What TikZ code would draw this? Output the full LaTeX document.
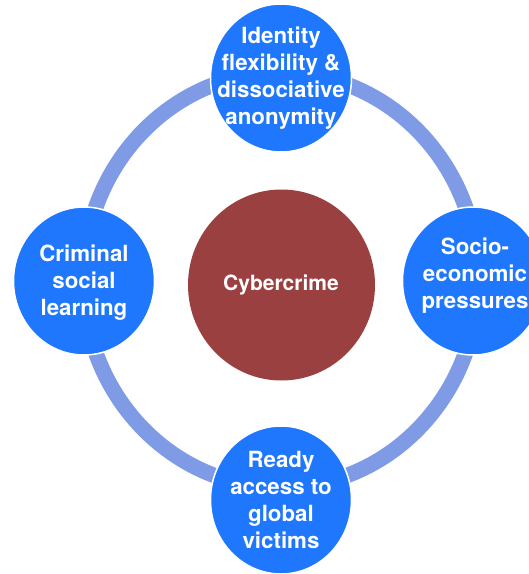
\documentclass[tikz,border=0pt]{standalone}
\usepackage{fontspec}
\setmainfont{TeX Gyre Heros}
\usetikzlibrary{shapes.geometric}
\definecolor{bubblue}{RGB}{30,119,253}
\definecolor{ringblue}{RGB}{127,155,229}
\definecolor{corered}{RGB}{154,64,65}
\begin{document}
\begin{tikzpicture}[x=1pt,y=-1pt,
  bubble/.style={ellipse, fill=bubblue, draw=white, line width=1.5pt, minimum width=141pt, minimum height=148pt, inner sep=0pt},
  core/.style={ellipse, fill=corered, minimum width=187pt, minimum height=191pt, inner sep=0pt},
  lbl/.style={text=white, font=\bfseries\fontsize{22.3}{27}\selectfont, align=center, inner sep=0pt},
  corelbl/.style={text=white, font=\bfseries\fontsize{21}{26}\selectfont, align=center, inner sep=0pt},
  ringline/.style={draw=ringblue, line width=15.5pt}]
\useasboundingbox (0,0) rectangle (529,574);
\coordinate (ringc) at (280.7,280);
\draw[ringline] (ringc) ellipse [x radius=197.4pt, y radius=207.5pt];
\node[bubble] (idn) at (281,78) {};
\node[bubble] (crim) at (84,281) {};
\node[bubble] (socio) at (473,281) {};
\node[bubble] (ready) at (281,500) {};
\node[core] (cyber) at (281.5,285) {};
\node[lbl] (idnt) at (281,78.5) {Identity\\flexibility \&\\dissociative\\anonymity};
\node[lbl] (crimt) at (84,283) {Criminal\\social\\learning};
\node[lbl] (sociot) at (475,276) {Socio-\\economic\\pressures};
\node[lbl] (readyt) at (281,499.5) {Ready\\access to\\global\\victims};
\node[corelbl] (cybert) at (281,285) {Cybercrime};
\end{tikzpicture}
\end{document}
